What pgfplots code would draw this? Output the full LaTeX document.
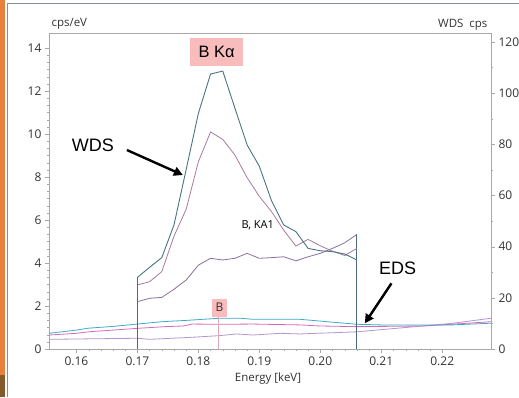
\documentclass[border=0pt]{standalone}
\usepackage{pgfplots}
\pgfplotsset{compat=1.18}
\usetikzlibrary{arrows.meta}
\usepackage{fontspec}
\setmainfont{Open Sans}
\newfontfamily\arialf{Liberation Sans}
\definecolor{cteal}{HTML}{4A7482}
\definecolor{cmauve}{HTML}{A97AA0}
\definecolor{cpurp}{HTML}{8C6EA0}
\definecolor{ccyan}{HTML}{3CAAC8}
\definecolor{cpink}{HTML}{D66AB8}
\definecolor{clav}{HTML}{B496D2}
\definecolor{cvline}{HTML}{4A6A78}
\definecolor{cbline}{HTML}{E0A8B0}
\definecolor{cbox}{HTML}{F8BCBC}
\definecolor{caxis}{HTML}{A8A8A8}
\definecolor{ctext}{HTML}{333333}
\definecolor{cframe}{HTML}{8090A0}
\definecolor{corange}{HTML}{E8803C}
\begin{document}
\begin{tikzpicture}
\path[use as bounding box] (0,0) rectangle (519pt,397pt);
\fill[white] (0,0) rectangle (519pt,397pt);
\fill[corange] (0,0) rectangle (5pt,397pt);
\fill[brown!70!black] (0,0) rectangle (5pt,22pt);
\draw[cframe, line width=0.8pt] (7pt,0) -- (7pt,394pt) -- (519pt,394pt);
\begin{axis}[
  at={(49pt,48pt)}, anchor=south west,
  scale only axis, width=442pt, height=316pt,
  xmin=0.1555, xmax=0.228, ymin=0, ymax=14.7,
  xtick={0.16,0.17,...,0.221}, minor x tick num=4,
  ytick={0,2,...,14}, minor y tick num=5,
  xticklabel style={/pgf/number format/.cd,fixed,precision=2,zerofill},
  /pgf/number format/assume math mode=true,
  tick label style={font=\fontsize{12}{14}\selectfont, text=ctext},
  tick align=outside, major tick length=4pt, minor tick length=2pt,
  axis line style={caxis}, tick style={caxis},
  axis y line*=left, axis x line*=bottom,
  clip=false,
]
% EDS
\addplot[clav, line width=0.8pt] coordinates {(0.1555,0.45)(0.170,0.5)(0.172,0.45)(0.1786,0.54)(0.1834,0.62)(0.1863,0.70)(0.189,0.65)(0.1934,0.73)(0.1967,0.70)(0.206,0.8)(0.2136,0.99)(0.2215,1.19)(0.228,1.43)};
\addplot[cpink, line width=0.8pt] coordinates {(0.1555,0.65)(0.160,0.73)(0.162,0.8)(0.166,0.88)(0.170,0.96)(0.1745,1.04)(0.1775,1.07)(0.179,1.16)(0.1834,1.15)(0.189,1.16)(0.1967,1.12)(0.200,1.07)(0.206,1.04)(0.2168,1.07)(0.2215,1.15)(0.228,1.27)};
\addplot[ccyan, line width=0.8pt] coordinates {(0.1555,0.73)(0.160,0.88)(0.162,0.97)(0.166,1.05)(0.170,1.16)(0.174,1.27)(0.178,1.33)(0.1834,1.43)(0.187,1.43)(0.189,1.38)(0.1967,1.38)(0.206,1.15)(0.210,1.12)(0.2168,1.12)(0.2215,1.12)(0.228,1.2)};
% B marker
\addplot[cbline, line width=1pt] coordinates {(0.18336,0)(0.18336,1.49)};
% WDS
\addplot[cvline, line width=0.8pt] coordinates {(0.170,0)(0.170,3.33)};
\addplot[cvline, line width=0.8pt] coordinates {(0.206,0)(0.206,5.33)};
\addplot[cpurp, line width=0.8pt] coordinates {(0.170,2.2)(0.172,2.36)(0.174,2.4)(0.176,2.78)(0.178,3.21)(0.180,3.9)(0.182,4.22)(0.184,4.14)(0.186,4.22)(0.188,4.45)(0.190,4.22)(0.192,4.25)(0.194,4.29)(0.196,4.1)(0.198,4.29)(0.200,4.45)(0.202,4.68)(0.204,4.94)(0.206,5.33)};
\addplot[cmauve, line width=0.8pt] coordinates {(0.170,2.98)(0.172,3.13)(0.174,3.6)(0.176,5.25)(0.178,6.5)(0.180,8.71)(0.182,10.1)(0.184,9.75)(0.186,9.02)(0.188,7.97)(0.190,7.1)(0.192,6.39)(0.194,5.53)(0.196,4.79)(0.198,5.1)(0.200,4.8)(0.202,4.55)(0.204,4.35)(0.206,4.68)};
\addplot[cteal, line width=0.9pt] coordinates {(0.170,3.33)(0.172,3.80)(0.174,4.25)(0.176,5.77)(0.178,8.35)(0.180,10.96)(0.182,12.79)(0.184,12.93)(0.186,11.2)(0.188,9.49)(0.190,8.5)(0.192,6.9)(0.194,5.77)(0.196,5.46)(0.198,4.68)(0.200,4.57)(0.202,4.53)(0.204,4.42)(0.206,4.14)};
% annotations
\node[fill=cbox, minimum width=53pt, minimum height=28pt, inner sep=0pt, font=\arialf\fontsize{16.5}{18}\selectfont] at (axis cs:0.183,13.81) {B Kα};
\node[fill=cbox, minimum width=15.5pt, minimum height=18pt, inner sep=0pt, font=\fontsize{12}{14}\selectfont, text=ctext] at (axis cs:0.18345,1.93) {B};
\node[font=\fontsize{11}{13}\selectfont, text=black] at (axis cs:0.18975,5.767) {B, KA1};
\node[font=\arialf\fontsize{18}{20}\selectfont] at (axis cs:0.1627,9.488) {WDS};
\node[font=\arialf\fontsize{18}{20}\selectfont] at (axis cs:0.2127,3.767) {EDS};
\draw[black, line width=2.4pt, -{Triangle[length=9pt,width=9pt]}] (axis cs:0.16828,9.256) -- (axis cs:0.17746,8.093);
\draw[black, line width=2.4pt, -{Triangle[length=9pt,width=9pt]}] (axis cs:0.21167,3.056) -- (axis cs:0.2073,1.195);
\end{axis}
\begin{axis}[
  at={(49pt,48pt)}, anchor=south west,
  scale only axis, width=442pt, height=316pt,
  xmin=0.1555, xmax=0.228, ymin=0, ymax=123.5,
  axis x line=none, axis y line*=right,
  ytick={0,20,...,120}, minor y tick num=1,
  /pgf/number format/assume math mode=true,
  tick label style={font=\fontsize{12}{14}\selectfont, text=ctext},
  tick align=outside, major tick length=4pt, minor tick length=2pt,
  axis line style={caxis}, tick style={caxis},
]
\addplot[draw=none] coordinates {(0.16,0)};
\end{axis}
\draw[caxis, line width=0.4pt] (49pt,364pt) -- (491pt,364pt);
\node[anchor=west, font=\fontsize{11.5}{13}\selectfont, text=ctext] at (48pt,373pt) {cps/eV};
\node[anchor=east, font=\fontsize{11.5}{13}\selectfont, text=ctext] at (491pt,372pt) {WDS\ \ cps};
\node[font=\fontsize{11.5}{13}\selectfont, text=ctext] at (268pt,18pt) {Energy [keV]};
\end{tikzpicture}
\end{document}
